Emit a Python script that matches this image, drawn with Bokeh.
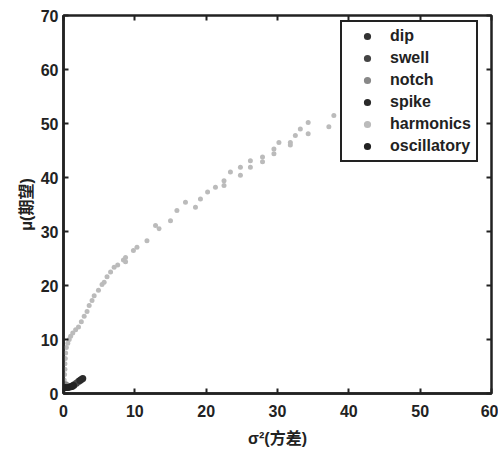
from bokeh.plotting import figure
from bokeh.models import LinearAxis, Range1d, FixedTicker, Legend, LegendItem
from bokeh.embed import file_html
from bokeh.resources import INLINE

# ---- data ----
dip_x = [0.05, 0.2, 0.4, 0.6, 0.8, 1.0]
dip_y = [1.3, 1.2, 1.2, 1.2, 1.25, 1.3]
swell_x = [1.2, 1.5, 1.8, 2.1]
swell_y = [1.4, 1.6, 1.9, 2.2]
notch_x = [0.1, 0.3, 0.5]
notch_y = [1.5, 1.6, 1.4]
spike_x = [2.3, 2.5, 2.7]
spike_y = [2.4, 2.6, 2.8]
osc_x = [0.1, 0.3, 0.6, 0.9, 1.2, 1.4]
osc_y = [1.0, 1.1, 1.1, 1.2, 1.3, 1.5]
harm_x = [0.1, 0.15, 0.2, 0.2, 0.25, 0.3, 0.4, 0.6, 0.8, 1.0, 1.3, 1.7, 2.1, 2.5,
          2.9, 3.3, 3.6, 4.0, 4.3, 4.9, 5.4, 5.7, 6.1, 6.6, 7.1, 7.6, 8.4, 8.7, 8.7,
          9.8, 10.3, 11.7, 12.9, 13.4, 15.0, 15.9, 17.1, 18.5, 19.2, 20.2, 21.3,
          22.5, 22.5, 23.4, 24.8, 24.8, 26.2, 26.2, 27.9, 27.9, 29.5, 29.5, 30.2,
          31.8, 31.8, 32.5, 33.2, 34.3, 34.3, 37.2, 37.9]
harm_y = [2.5, 3.5, 4.5, 5.5, 6.5, 7.5, 8.5, 9.3, 10.0, 10.6, 11.2, 11.8, 12.3, 13.3,
          14.3, 15.2, 16.3, 17.2, 18.1, 19.1, 20.2, 20.6, 21.6, 22.5, 23.4, 23.8, 24.7,
          25.2, 24.4, 26.5, 27.1, 28.3, 31.1, 30.5, 32.0, 33.9, 35.4, 34.5, 36.0, 37.3,
          38.2, 39.4, 38.5, 41.0, 41.9, 40.4, 43.1, 41.9, 43.8, 42.9, 45.3, 44.4, 46.5,
          46.5, 46.0, 47.8, 49.0, 50.2, 48.1, 49.4, 51.5]
x_ticks = [0, 10, 20, 30, 40, 50, 60]
y_ticks = [0, 10, 20, 30, 40, 50, 60, 70]

FONT = "Liberation Sans, Noto Sans CJK SC"
INK = "#222222"

p = figure(width=498, height=449, output_backend="svg", toolbar_location=None,
           x_range=Range1d(0, 60), y_range=Range1d(0, 70),
           min_border_left=63, min_border_right=7, min_border_top=15, min_border_bottom=0,
           x_axis_label="σ²(方差)", y_axis_label="μ(期望)")
p.grid.visible = False
p.outline_line_color = INK
p.outline_line_width = 2.5
p.outline_line_alpha = 1
p.background_fill_color = "white"
p.border_fill_color = "white"

p.xaxis[0].ticker = FixedTicker(ticks=x_ticks)
p.yaxis[0].ticker = FixedTicker(ticks=y_ticks)
for ax in [p.xaxis[0], p.yaxis[0]]:
    ax.major_tick_in = 5
    ax.major_tick_out = 0
    ax.minor_tick_line_color = None
    ax.axis_line_width = 2.5
    ax.axis_line_color = INK
    ax.major_tick_line_width = 2
    ax.major_tick_line_color = INK
    ax.major_label_text_font = FONT
    ax.major_label_text_font_style = "bold"
    ax.major_label_text_font_size = "16px"
    ax.major_label_text_color = INK
    ax.axis_label_text_font = FONT
    ax.axis_label_text_font_style = "bold"
    ax.axis_label_text_font_size = "16px"
    ax.axis_label_text_color = INK
p.xaxis[0].major_label_standoff = 11
p.xaxis[0].axis_label_standoff = 10
p.yaxis[0].major_label_standoff = 5
p.yaxis[0].axis_label_standoff = 3

top = LinearAxis(ticker=FixedTicker(ticks=x_ticks),
                 major_label_overrides={t: "" for t in x_ticks},
                 major_tick_in=5, major_tick_out=0, minor_tick_line_color=None,
                 axis_line_color=None, major_tick_line_width=2, major_tick_line_color=INK,
                 major_label_standoff=0)
right = LinearAxis(ticker=FixedTicker(ticks=y_ticks),
                   major_label_overrides={t: "" for t in y_ticks},
                   major_tick_in=5, major_tick_out=0, minor_tick_line_color=None,
                   axis_line_color=None, major_tick_line_width=2, major_tick_line_color=INK,
                   major_label_standoff=0)
p.add_layout(top, "above")
p.add_layout(right, "right")

r_h = p.scatter(harm_x, harm_y, size=5, color="#bbbbbb", line_color=None)
r_dip = p.scatter(dip_x, dip_y, size=7, color="#333333", line_color=None)
r_sw = p.scatter(swell_x, swell_y, size=7, color="#444444", line_color=None)
r_no = p.scatter(notch_x, notch_y, size=7, color="#888888", line_color=None)
r_sp = p.scatter(spike_x, spike_y, size=7, color="#2a2a2a", line_color=None)
r_os = p.scatter(osc_x, osc_y, size=7, color="#222222", line_color=None)

legend = Legend(items=[
    LegendItem(label="dip", renderers=[r_dip]),
    LegendItem(label="swell", renderers=[r_sw]),
    LegendItem(label="notch", renderers=[r_no]),
    LegendItem(label="spike", renderers=[r_sp]),
    LegendItem(label="harmonics", renderers=[r_h]),
    LegendItem(label="oscillatory", renderers=[r_os]),
], location=(277, 231))
legend.margin = 0
legend.padding = 5
legend.spacing = 4
legend.label_height = 18
legend.glyph_height = 18
legend.glyph_width = 40
legend.label_standoff = 3
legend.label_text_font = FONT
legend.label_text_font_style = "bold"
legend.label_text_font_size = "16px"
legend.label_text_color = INK
legend.border_line_color = INK
legend.border_line_width = 2.5
legend.border_line_alpha = 1
legend.background_fill_alpha = 1
p.add_layout(legend)

open("out.html", "w").write(file_html(p, INLINE))
